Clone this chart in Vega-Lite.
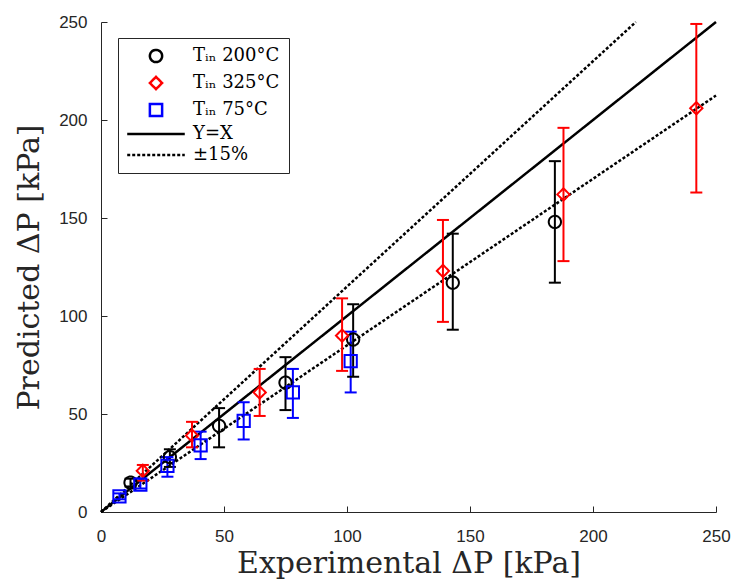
{
  "$schema": "https://vega.github.io/schema/vega-lite/v6.json",
  "width": 615,
  "height": 490,
  "autosize": {"type": "none"},
  "padding": {"left": 101, "top": 22, "right": 22, "bottom": 74},
  "background": "white",
  "config": {
    "view": {"stroke": null},
    "axis": {
      "grid": false,
      "domainColor": "#262626",
      "domainWidth": 1,
      "tickColor": "#262626",
      "tickSize": -6,
      "labelFlush": false,
      "labelFont": "Liberation Sans",
      "labelFontSize": 17,
      "labelColor": "#262626",
      "titleFont": "DejaVu Serif",
      "titleFontSize": 30,
      "titleFontWeight": "normal",
      "titleColor": "#262626"
    },
    "legend": {
      "labelFont": "DejaVu Serif",
      "labelFontSize": 18,
      "labelColor": "#000000",
      "symbolFillColor": "transparent",
      "symbolOpacity": 1
    }
  },
  "datasets": {
    "pts": [
      {"series": "Tᵢₙ 200°C", "x": 12, "y": 15, "lo": 13, "hi": 17},
      {"series": "Tᵢₙ 200°C", "x": 28, "y": 28, "lo": 23, "hi": 32},
      {"series": "Tᵢₙ 200°C", "x": 48, "y": 44, "lo": 33, "hi": 53},
      {"series": "Tᵢₙ 200°C", "x": 75, "y": 66, "lo": 52, "hi": 79},
      {"series": "Tᵢₙ 200°C", "x": 102.5, "y": 88, "lo": 69, "hi": 106},
      {"series": "Tᵢₙ 200°C", "x": 143, "y": 117, "lo": 93, "hi": 142},
      {"series": "Tᵢₙ 200°C", "x": 184.5, "y": 148, "lo": 117, "hi": 179},
      {"series": "Tᵢₙ 325°C", "x": 17, "y": 21, "lo": 16, "hi": 24},
      {"series": "Tᵢₙ 325°C", "x": 37, "y": 39, "lo": 33, "hi": 46},
      {"series": "Tᵢₙ 325°C", "x": 64.5, "y": 61, "lo": 49, "hi": 73},
      {"series": "Tᵢₙ 325°C", "x": 98, "y": 90, "lo": 72, "hi": 109},
      {"series": "Tᵢₙ 325°C", "x": 139, "y": 123, "lo": 97, "hi": 149},
      {"series": "Tᵢₙ 325°C", "x": 188, "y": 162, "lo": 128, "hi": 196},
      {"series": "Tᵢₙ 325°C", "x": 242, "y": 206, "lo": 163, "hi": 249},
      {"series": "Tᵢₙ 75°C", "x": 7.5, "y": 8, "lo": 6.5, "hi": 9.5},
      {"series": "Tᵢₙ 75°C", "x": 16, "y": 14, "lo": 12, "hi": 17},
      {"series": "Tᵢₙ 75°C", "x": 27, "y": 23.5, "lo": 18, "hi": 28},
      {"series": "Tᵢₙ 75°C", "x": 40.5, "y": 34, "lo": 27, "hi": 41},
      {"series": "Tᵢₙ 75°C", "x": 58, "y": 46.5, "lo": 37, "hi": 56},
      {"series": "Tᵢₙ 75°C", "x": 78, "y": 61, "lo": 48, "hi": 73},
      {"series": "Tᵢₙ 75°C", "x": 101.5, "y": 77, "lo": 61, "hi": 92}
    ],
    "lines": [
      {"series": "Y=X", "line": "yx", "x": 0, "y": 0},
      {"series": "Y=X", "line": "yx", "x": 250, "y": 250},
      {"series": "±15%", "line": "upper", "x": 0, "y": 0},
      {"series": "±15%", "line": "upper", "x": 217.4, "y": 250},
      {"series": "±15%", "line": "lower", "x": 0, "y": 0},
      {"series": "±15%", "line": "lower", "x": 250, "y": 212.5}
    ]
  },
  "layer": [
    {
      "data": {"name": "lines"},
      "mark": {"type": "line", "strokeWidth": 2.5},
      "encoding": {
        "x": {"field": "x", "type": "quantitative"},
        "y": {"field": "y", "type": "quantitative"},
        "detail": {"field": "line"},
        "color": {"field": "series", "type": "nominal"},
        "strokeDash": {"field": "series", "type": "nominal"}
      }
    },
    {
      "data": {"name": "pts"},
      "mark": {"type": "rule", "strokeWidth": 2},
      "encoding": {
        "x": {"field": "x", "type": "quantitative"},
        "y": {"field": "lo", "type": "quantitative"},
        "y2": {"field": "hi"},
        "color": {"field": "series", "type": "nominal"}
      }
    },
    {
      "data": {"name": "pts"},
      "mark": {"type": "rule", "strokeWidth": 2, "xOffset": -6, "x2Offset": 6},
      "encoding": {
        "x": {"field": "x", "type": "quantitative"},
        "x2": {"field": "x"},
        "y": {"field": "lo", "type": "quantitative"},
        "color": {"field": "series", "type": "nominal"}
      }
    },
    {
      "data": {"name": "pts"},
      "mark": {"type": "rule", "strokeWidth": 2, "xOffset": -6, "x2Offset": 6},
      "encoding": {
        "x": {"field": "x", "type": "quantitative"},
        "x2": {"field": "x"},
        "y": {"field": "hi", "type": "quantitative"},
        "color": {"field": "series", "type": "nominal"}
      }
    },
    {
      "data": {"name": "pts"},
      "mark": {"type": "point", "filled": false, "size": 150, "strokeWidth": 2, "opacity": 1},
      "encoding": {
        "x": {
          "field": "x", "type": "quantitative",
          "scale": {"domain": [0, 250], "nice": false},
          "axis": {"values": [0, 50, 100, 150, 200, 250], "title": "Experimental ΔP [kPa]", "labelPadding": 22, "titlePadding": 4}
        },
        "y": {
          "field": "y", "type": "quantitative",
          "scale": {"domain": [0, 250], "nice": false},
          "axis": {"values": [0, 50, 100, 150, 200, 250], "title": "Predicted ΔP [kPa]", "labelPadding": 20, "titlePadding": 14}
        },
        "color": {
          "field": "series", "type": "nominal",
          "scale": {
            "domain": ["Tᵢₙ 200°C", "Tᵢₙ 325°C", "Tᵢₙ 75°C", "Y=X", "±15%"],
            "range": ["#000000", "#ff0000", "#0000ff", "#000000", "#000000"]
          },
          "legend": {
            "title": null,
            "orient": "none",
            "legendX": 17,
            "legendY": 16,
            "strokeColor": "#262626",
            "fillColor": "white",
            "padding": 9,
            "rowPadding": 3,
            "symbolSize": 150,
            "symbolOpacity": 1,
            "symbolFillColor": "transparent",
            "symbolStrokeWidth": 2.5,
            "symbolOffset": 20,
            "labelOffset": 28
          }
        },
        "shape": {
          "field": "series", "type": "nominal",
          "scale": {
            "domain": ["Tᵢₙ 200°C", "Tᵢₙ 325°C", "Tᵢₙ 75°C", "Y=X", "±15%"],
            "range": ["circle", "diamond", "square", "M-4.7,0H4.7", "M-4.7,0H4.7"]
          },
          "legend": {"title": null}
        },
        "strokeDash": {
          "field": "series", "type": "nominal",
          "scale": {
            "domain": ["Tᵢₙ 200°C", "Tᵢₙ 325°C", "Tᵢₙ 75°C", "Y=X", "±15%"],
            "range": [[1, 0], [1, 0], [1, 0], [1, 0], [3, 2]]
          },
          "legend": {"title": null}
        }
      }
    }
  ]
}
